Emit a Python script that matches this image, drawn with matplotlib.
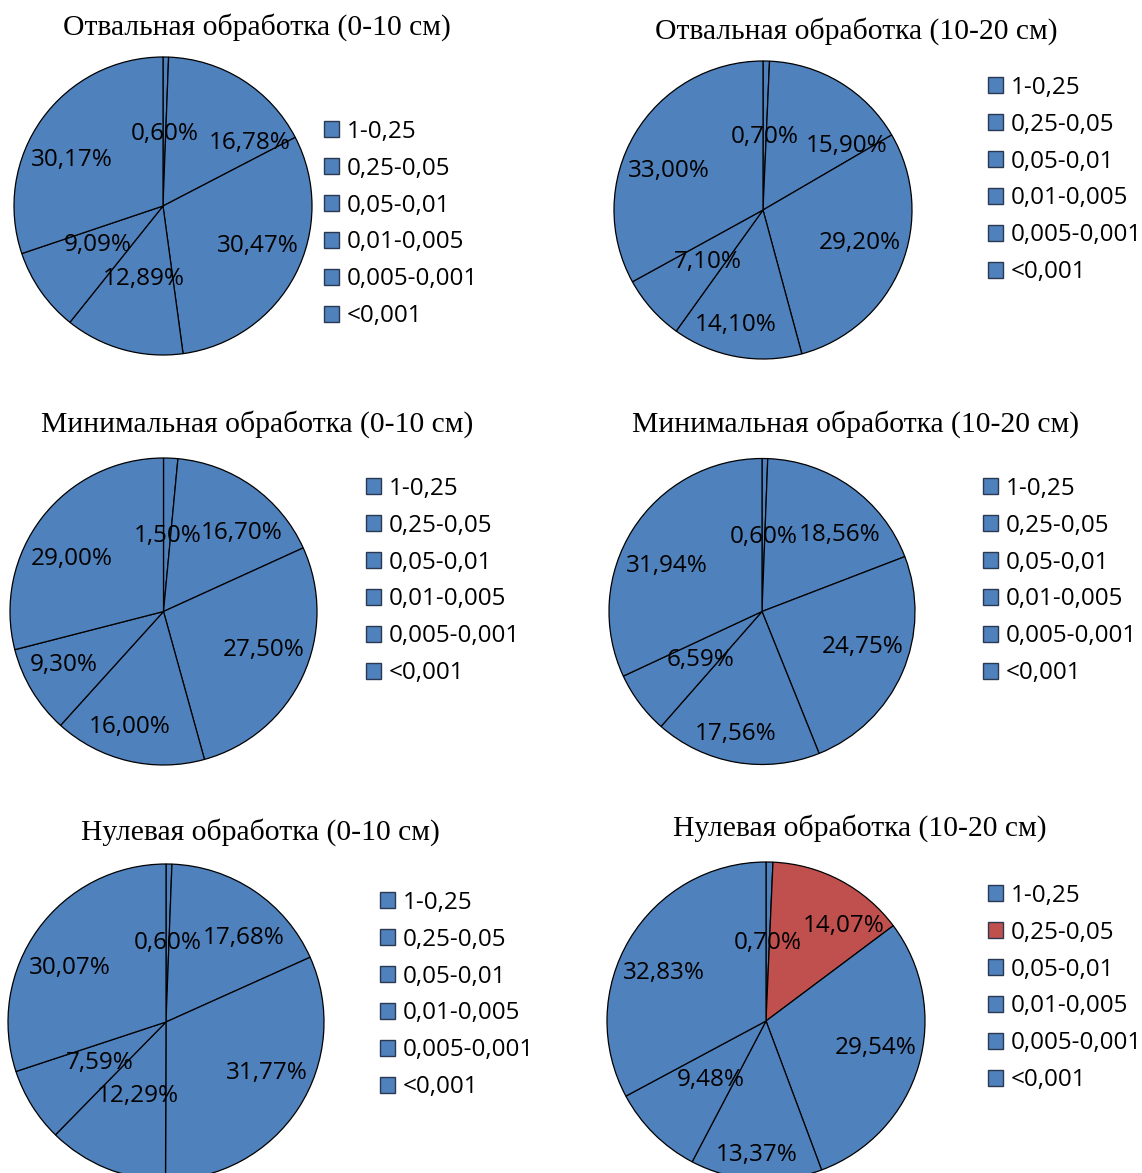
import matplotlib.pyplot as plt
from matplotlib.patches import Patch

W, H = 1142, 1173

fractions = ['1-0,25', '0,25-0,05', '0,05-0,01', '0,01-0,005', '0,005-0,001', '<0,001']

titles = [
    'Отвальная обработка (0-10 см)',
    'Отвальная обработка (10-20 см)',
    'Минимальная обработка (0-10 см)',
    'Минимальная обработка (10-20 см)',
    'Нулевая обработка (0-10 см)',
    'Нулевая обработка (10-20 см)',
]

otv_0_10 = [0.60, 16.78, 30.47, 12.89, 9.09, 30.17]
otv_10_20 = [0.70, 15.90, 29.20, 14.10, 7.10, 33.00]
min_0_10 = [1.50, 16.70, 27.50, 16.00, 9.30, 29.00]
min_10_20 = [0.60, 18.56, 24.75, 17.56, 6.59, 31.94]
nul_0_10 = [0.60, 17.68, 31.77, 12.29, 7.59, 30.07]
nul_10_20 = [0.70, 14.07, 29.54, 13.37, 9.48, 32.83]

series = [otv_0_10, otv_10_20, min_0_10, min_10_20, nul_0_10, nul_10_20]

BLUE = '#4F81BD'
RED = '#C0504D'

# pie centre (px) and radius (px)
pies = [
    (163, 206, 149),
    (763, 210, 149),
    (163.5, 611.5, 153.5),
    (762, 611.5, 153),
    (166, 1022, 158),
    (766, 1021, 159),
]
# title centres (px)
title_pos = [(257, 27), (856, 31), (257, 424), (855, 424), (260, 832), (860, 828)]
# legend: left edge of markers, centre of the block (px)
legend_pos = [(324, 224), (988, 180), (366, 581), (983, 581), (380, 995), (988, 988)]

# label positions in units of the radius
label_xy = [
    [(0.01, 0.48), (0.58, 0.42), (0.64, -0.27), (-0.13, -0.49), (-0.44, -0.26), (-0.61, 0.31)],
    [(0.01, 0.49), (0.56, 0.43), (0.65, -0.22), (-0.18, -0.77), (-0.37, -0.35), (-0.63, 0.26)],
    [(0.03, 0.49), (0.51, 0.51), (0.65, -0.25), (-0.22, -0.75), (-0.65, -0.35), (-0.60, 0.34)],
    [(0.01, 0.49), (0.51, 0.50), (0.66, -0.23), (-0.17, -0.80), (-0.40, -0.32), (-0.62, 0.30)],
    [(0.01, 0.50), (0.49, 0.53), (0.64, -0.32), (-0.18, -0.47), (-0.42, -0.26), (-0.61, 0.34)],
    [(0.01, 0.49), (0.49, 0.60), (0.69, -0.17), (-0.06, -0.84), (-0.35, -0.37), (-0.64, 0.30)],
]

SANS = ['Open Sans', 'DejaVu Sans']
SERIF = ['Liberation Serif', 'DejaVu Serif']

fig = plt.figure(figsize=(W / 100, H / 100), dpi=100)
fig.patch.set_facecolor('white')

for k, vals in enumerate(series):
    cx, cy, r = pies[k]
    ax = fig.add_axes([(cx - r) / W, (H - cy - r) / H, 2 * r / W, 2 * r / H])
    colors = [BLUE] * len(vals)
    if k == 5:
        colors[1] = RED
    ax.pie(vals, colors=colors, startangle=90, counterclock=False, radius=1,
           wedgeprops=dict(edgecolor='black', linewidth=0.9))
    ax.set_xlim(-1, 1)
    ax.set_ylim(-1, 1)
    ax.set_aspect('equal')
    ax.axis('off')

    for v, (lx, ly) in zip(vals, label_xy[k]):
        txt = f'{v:.2f}%'.replace('.', ',')
        ax.text(lx, ly, txt, ha='center', va='center', fontsize=17.5,
                family=SANS, color='black')
    if k == 5:
        # short leader line of the smallest slice
        ax.plot([0.20, 0.20], [0.46, 0.52], color='black', lw=0.8)

    tx, ty = title_pos[k]
    fig.text(tx / W, 1 - ty / H, titles[k], ha='center', va='center',
             fontsize=21.3, family=SERIF)

    handles = [Patch(facecolor=c, edgecolor='#2A3950', linewidth=1.0) for c in colors]
    lx, ly = legend_pos[k]
    fig.legend(handles, fractions, loc='center left',
               bbox_to_anchor=(lx / W, 1 - ly / H), frameon=False,
               borderpad=0, borderaxespad=0, handlelength=0.62, handleheight=0.62,
               handletextpad=0.3, labelspacing=0.53,
               prop={'family': SANS, 'size': 17.5})

fig.savefig('out.png', dpi=100, facecolor='white')
